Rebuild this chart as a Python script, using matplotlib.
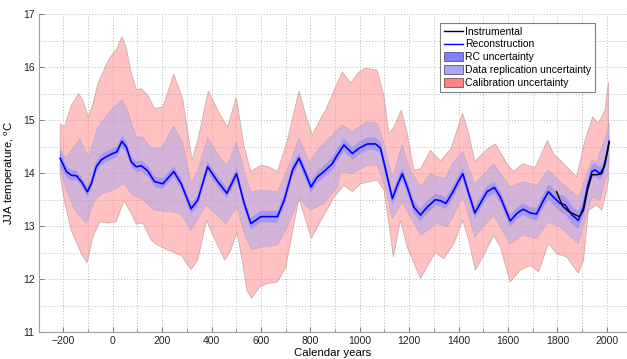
import numpy as np
import matplotlib
matplotlib.use("Agg")
import matplotlib.pyplot as plt
from matplotlib.lines import Line2D
from matplotlib.patches import Patch

plt.rcParams['font.family'] = ['Liberation Sans', 'DejaVu Sans']
plt.rcParams['mathtext.fontset'] = 'custom'
plt.rcParams['mathtext.rm'] = 'Liberation Sans'

# ---------------- data ----------------
recon_years = [-213, -188, -168, -147, -127, -103, -87, -67, -47, -26, 0, 16, 37, 54, 75, 95,
               115, 142, 169, 203, 247, 277, 317, 344, 384, 425, 462, 501, 532, 559, 600, 640,
               667, 694, 728, 754, 781, 802, 829, 855, 889, 909, 936, 970, 997, 1031, 1064,
               1084, 1105, 1132, 1152, 1172, 1192, 1219, 1246, 1273, 1306, 1327, 1349, 1374,
               1394, 1417, 1441, 1466, 1488, 1515, 1545, 1569, 1609, 1636, 1661, 1690, 1716,
               1744, 1764, 1784, 1811, 1832, 1859, 1885, 1906, 1922, 1940, 1953, 1973, 1989,
               2002, 2010]
recon_temp = [14.28, 14.03, 13.96, 13.95, 13.84, 13.65, 13.80, 14.12, 14.25, 14.31, 14.37, 14.40,
              14.60, 14.50, 14.21, 14.12, 14.14, 14.04, 13.84, 13.80, 14.03, 13.80, 13.33, 13.49,
              14.12, 13.84, 13.62, 13.99, 13.43, 13.05, 13.18, 13.18, 13.18, 13.49, 14.06, 14.28,
              13.99, 13.74, 13.93, 14.03, 14.18, 14.34, 14.53, 14.37, 14.47, 14.55, 14.55, 14.47,
              14.06, 13.52, 13.77, 13.99, 13.74, 13.36, 13.21, 13.36, 13.50, 13.48, 13.43, 13.62,
              13.80, 13.99, 13.62, 13.25, 13.43, 13.65, 13.73, 13.55, 13.10, 13.24, 13.32, 13.25,
              13.23, 13.49, 13.65, 13.55, 13.43, 13.40, 13.21, 13.11, 13.36, 13.74, 14.03, 14.06,
              13.99, 14.12, 14.40, 14.60]
rc_halfwidth = [0.15, 0.11, 0.10, 0.09, 0.09, 0.09, 0.09, 0.10, 0.10, 0.10, 0.10, 0.10,
                0.11, 0.11, 0.10, 0.10, 0.10, 0.10, 0.10, 0.10, 0.10, 0.10, 0.10, 0.10,
                0.10, 0.10, 0.10, 0.10, 0.10, 0.11, 0.11, 0.11, 0.11, 0.11, 0.11, 0.11,
                0.11, 0.11, 0.11, 0.11, 0.12, 0.12, 0.12, 0.12, 0.12, 0.12, 0.12, 0.12,
                0.12, 0.12, 0.12, 0.12, 0.12, 0.12, 0.12, 0.12, 0.11, 0.11, 0.11, 0.11,
                0.11, 0.11, 0.11, 0.11, 0.11, 0.11, 0.11, 0.11, 0.11, 0.11, 0.11, 0.11,
                0.12, 0.13, 0.14, 0.15, 0.16, 0.17, 0.17, 0.17, 0.16, 0.15, 0.13, 0.12,
                0.12, 0.12, 0.13, 0.15]

instr_years = [1797, 1821, 1848, 1875, 1889, 1906, 1922, 1940, 1959, 1980, 1993, 2010]
instr_temp = [13.65, 13.38, 13.27, 13.21, 13.18, 13.30, 13.68, 13.97, 13.97, 13.99, 14.18, 14.58]

drep_up_years = [-213, -190, -165, -134, -98, -60, -7, 37, 59, 95, 122, 155, 196, 247, 284, 317,
                 344, 384, 425, 462, 501, 539, 559, 600, 667, 707, 754, 795, 842, 896, 929, 970,
                 1031, 1071, 1091, 1132, 1172, 1205, 1246, 1286, 1313, 1347, 1374, 1417, 1466,
                 1542, 1609, 1663, 1717, 1764, 1811, 1885, 1940, 1959, 2000, 2010]
drep_up = [14.45, 14.28, 14.45, 14.64, 14.31, 14.87, 15.19, 15.38, 15.19, 14.68, 14.68, 14.47,
           14.47, 14.89, 14.56, 13.80, 14.05, 14.67, 14.35, 14.13, 14.59, 13.93, 13.65, 13.68,
           13.65, 14.06, 14.67, 14.21, 14.50, 14.75, 14.91, 14.78, 14.97, 14.94, 14.68, 13.93,
           14.53, 14.06, 13.74, 13.99, 13.93, 13.90, 14.18, 14.40, 13.80, 14.18, 13.74, 13.84,
           13.77, 14.06, 13.84, 13.55, 14.25, 14.20, 14.75, 14.95]
drep_lo_years = [-213, -188, -154, -107, -73, -40, 0, 45, 81, 115, 169, 236, 277, 317, 378, 458,
                 503, 532, 562, 600, 667, 707, 754, 802, 855, 909, 923, 970, 1031, 1071, 1105,
                 1132, 1172, 1246, 1313, 1355, 1417, 1466, 1542, 1609, 1663, 1717, 1764, 1811,
                 1885, 1940, 1973, 2002, 2010]
drep_lo = [14.08, 13.68, 13.30, 13.05, 13.49, 13.62, 13.68, 13.80, 13.58, 13.52, 13.30, 13.27,
           13.24, 12.92, 13.40, 13.05, 13.36, 12.86, 12.55, 12.61, 12.64, 12.99, 13.52, 13.30,
           13.43, 13.74, 14.03, 13.99, 14.15, 14.15, 13.68, 13.15, 13.46, 12.83, 13.05, 12.99,
           13.55, 12.80, 13.21, 12.67, 12.83, 12.77, 13.08, 12.99, 12.67, 13.55, 13.49, 14.00,
           14.20]

cal_up_years = [-213, -195, -168, -138, -120, -99, -80, -60, -40, -19, 0, 18, 37, 54, 75, 95,
                115, 142, 169, 203, 247, 284, 321, 344, 387, 431, 465, 500, 532, 559, 600, 630,
                667, 707, 754, 781, 808, 842, 862, 895, 929, 963, 995, 1024, 1071, 1098, 1118,
                1138, 1168, 1192, 1219, 1246, 1286, 1327, 1370, 1416, 1441, 1466, 1515, 1549,
                1600, 1623, 1660, 1710, 1760, 1784, 1838, 1878, 1912, 1943, 1966, 1993, 2007]
cal_up = [14.93, 14.88, 15.28, 15.50, 15.36, 15.06, 15.31, 15.70, 15.90, 16.12, 16.25, 16.36,
          16.57, 16.38, 15.88, 15.58, 15.59, 15.47, 15.22, 15.25, 15.87, 15.38, 14.25, 14.62,
          15.55, 15.13, 14.87, 15.43, 14.50, 14.03, 14.15, 14.12, 14.03, 14.62, 15.55, 15.10,
          14.72, 15.03, 15.19, 15.55, 15.91, 15.70, 15.90, 15.98, 15.94, 15.44, 14.75, 14.87,
          15.19, 14.75, 14.06, 14.08, 14.43, 14.23, 14.47, 15.13, 14.75, 14.22, 14.45, 14.55,
          14.15, 14.03, 14.18, 14.10, 14.62, 14.37, 14.12, 13.93, 14.62, 15.06, 14.94, 15.19,
          15.72]
cal_lo_years = [-213, -195, -168, -127, -104, -80, -53, -19, 14, 45, 75, 95, 122, 155, 182, 223,
                277, 317, 344, 380, 411, 454, 478, 503, 526, 543, 562, 593, 627, 667, 701, 734,
                754, 781, 804, 842, 896, 936, 970, 1004, 1071, 1098, 1118, 1136, 1165, 1192,
                1246, 1280, 1306, 1340, 1381, 1417, 1441, 1468, 1502, 1542, 1569, 1609, 1650,
                1690, 1724, 1764, 1798, 1838, 1885, 1906, 1926, 1959, 1980, 2000, 2008]
cal_lo = [13.95, 13.45, 12.92, 12.48, 12.31, 12.80, 13.08, 13.06, 13.08, 13.48, 13.24, 13.04,
          13.06, 12.74, 12.64, 12.55, 12.45, 12.18, 12.36, 13.11, 12.77, 12.36, 12.55, 12.89,
          12.30, 11.79, 11.64, 11.85, 11.92, 11.95, 12.23, 13.05, 13.52, 13.11, 12.77, 13.10,
          13.55, 13.77, 13.65, 13.80, 13.87, 13.68, 13.05, 12.42, 13.11, 12.61, 12.01, 12.30,
          12.50, 12.39, 12.67, 13.11, 12.74, 12.17, 12.45, 12.83, 12.61, 11.95, 12.17, 12.26,
          12.14, 12.67, 12.48, 12.42, 12.11, 12.36, 13.30, 13.40, 13.30, 13.68, 13.90]

x_ticks = [-200, 0, 200, 400, 600, 800, 1000, 1200, 1400, 1600, 1800, 2000]
y_ticks = [11, 12, 13, 14, 15, 16, 17]

# ---------------- colours ----------------
cal_col = '#FF8585'
drep_col = '#A8A8F0'
rc_col = '#8080FF'

fig = plt.figure(figsize=(6.27, 3.59), dpi=100)
ax = fig.add_axes([0.0617, 0.0744, 0.9383, 0.8866])


def band(xu, yu, xl, yl, **kw):
    xs = np.concatenate([np.asarray(xu, float), np.asarray(xl, float)[::-1]])
    ys = np.concatenate([np.asarray(yu, float), np.asarray(yl, float)[::-1]])
    ax.fill(xs, ys, **kw)


band(cal_up_years, cal_up, cal_lo_years, cal_lo, facecolor=cal_col, alpha=0.5,
     edgecolor='#9a8080', linewidth=0.6, zorder=2)
band(drep_up_years, drep_up, drep_lo_years, drep_lo, facecolor=drep_col, alpha=0.5,
     edgecolor='#a090b0', linewidth=0.4, zorder=3)
ry = np.array(recon_years, float)
rt = np.array(recon_temp, float)
rh = np.array(rc_halfwidth, float)
ax.fill_between(ry, rt - rh, rt + rh, facecolor=rc_col, alpha=0.5, linewidth=0, zorder=4)
ax.plot(recon_years, recon_temp, color='#0000FF', linewidth=1.2, zorder=5)
ax.plot(instr_years, instr_temp, color='black', linewidth=1.0, zorder=6)

ax.set_xlim(-300, 2082)
ax.set_ylim(11, 17)
ax.set_xticks(x_ticks)
ax.set_yticks(y_ticks)
ax.set_xticks(np.arange(-300, 2100, 100), minor=True)
ax.set_yticks(np.arange(11, 17.01, 0.5), minor=True)
ax.grid(True, which='both', linestyle=(0, (1, 2)), color='#b8b8b8', linewidth=0.7)
ax.set_axisbelow(True)
for s in ['top', 'right']:
    ax.spines[s].set_visible(False)
for s in ['left', 'bottom']:
    ax.spines[s].set_color('#a0a0a0')
    ax.spines[s].set_linewidth(0.8)
ax.tick_params(which='both', direction='in', color='#808080', labelsize=7.5,
               labelcolor='#222222')
ax.tick_params(which='major', length=3.5, pad=3)
ax.tick_params(which='minor', length=2)
ax.tick_params(axis='y', which='minor', length=0)

ax.set_xlabel('Calendar years', fontsize=8.2, labelpad=1)
ax.set_ylabel('JJA temperature, $^{\\mathrm{o}}$C', fontsize=8.2, labelpad=4)

handles = [Line2D([], [], color='black', linewidth=1.0),
           Line2D([], [], color='#0000FF', linewidth=1.0),
           Patch(facecolor=rc_col, edgecolor='#555577', linewidth=0.6),
           Patch(facecolor=drep_col, edgecolor='#555577', linewidth=0.6),
           Patch(facecolor=cal_col, edgecolor='#775555', linewidth=0.6)]
labels = ['Instrumental', 'Reconstruction', 'RC uncertainty',
          'Data replication uncertainty', 'Calibration uncertainty']
leg = ax.legend(handles, labels, loc='upper right', bbox_to_anchor=(0.945, 0.972),
                fontsize=7.5, frameon=True, fancybox=False, edgecolor='#808080',
                framealpha=1, borderpad=0.35, labelspacing=0.28, handlelength=1.8,
                handleheight=0.9, handletextpad=0.2, borderaxespad=0)
leg.get_frame().set_linewidth(0.8)
leg.set_zorder(10)

fig.savefig('out.png', dpi=100)
